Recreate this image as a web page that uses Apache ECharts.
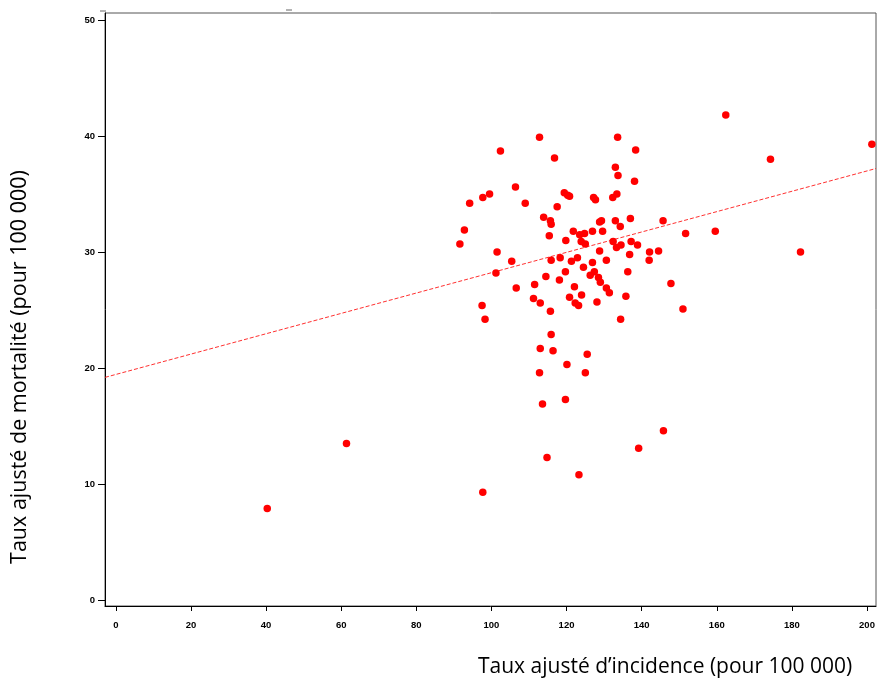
<!DOCTYPE html>
<html>
<head>
<meta charset="utf-8">
<script src="https://cdn.jsdelivr.net/npm/echarts@6/dist/echarts.min.js"></script>
<style>
  html, body { margin: 0; padding: 0; background: #fff; }
  #chart { width: 877px; height: 680px; }
</style>
</head>
<body>
<div id="chart"></div>
<script>
// taux ajusté d'incidence (x) / de mortalité (y)
const incidence = [
  112.8, 102.4, 116.8, 106.4, 99.5, 97.7, 94.2, 109.0, 119.4, 120.3,
  120.8, 117.5, 113.9, 115.7, 115.9, 115.4, 92.8, 121.8, 123.5, 119.8,
  91.6, 101.5, 133.6, 138.4, 133.0, 133.7, 138.1, 127.2, 127.7, 132.3,
  133.4, 145.7, 151.7, 137.0, 133.0, 134.3, 128.8, 129.3, 126.9, 129.6,
  124.8, 123.9, 125.0, 132.4, 133.3, 134.5, 137.2, 138.9, 128.8, 142.1,
  144.5, 136.8, 105.4, 101.2, 115.9, 118.3, 121.3, 122.9, 119.7, 114.5,
  118.1, 111.5, 106.6, 122.1, 111.2, 113.0, 120.8, 122.3, 123.2, 124.0,
  97.5, 115.7, 98.3, 115.9, 113.0, 116.4, 120.1, 112.8, 126.9, 130.6,
  142.0, 124.5, 136.3, 127.4, 126.3, 128.5, 129.0, 130.6, 131.4, 135.8,
  128.1, 147.8, 151.0, 134.4, 125.5, 125.0, 113.6, 119.7, 145.8, 139.2,
  114.8, 123.3, 97.7, 162.4, 201.3, 174.3, 159.6, 182.3, 61.4, 40.3
];
const mortalite = [
  39.9, 38.7, 38.1, 35.6, 35.0, 34.7, 34.2, 34.2, 35.1, 34.9,
  34.8, 33.9, 33.0, 32.7, 32.4, 31.4, 31.9, 31.8, 31.5, 31.0,
  30.7, 30.0, 39.9, 38.8, 37.3, 36.6, 36.1, 34.7, 34.5, 34.7,
  35.0, 32.7, 31.6, 32.9, 32.7, 32.2, 32.6, 32.7, 31.8, 31.8,
  31.6, 30.9, 30.7, 30.9, 30.4, 30.6, 30.9, 30.6, 30.1, 30.0,
  30.1, 29.8, 29.2, 28.2, 29.3, 29.5, 29.2, 29.5, 28.3, 27.9,
  27.6, 27.2, 26.9, 27.0, 26.0, 25.6, 26.1, 25.6, 25.4, 26.3,
  25.4, 24.9, 24.2, 22.9, 21.7, 21.5, 20.3, 19.6, 29.1, 29.3,
  29.3, 28.7, 28.3, 28.3, 28.0, 27.8, 27.4, 26.9, 26.5, 26.2,
  25.7, 27.3, 25.1, 24.2, 21.2, 19.6, 16.9, 17.3, 14.6, 13.1,
  12.3, 10.8, 9.3, 41.8, 39.3, 38.0, 31.8, 30.0, 13.5, 7.9
];

// droite de régression (extrémités)
const fitX = [-2.9, 202.4];
const fitY = [19.2, 37.2];

const xTicks = [0, 20, 40, 60, 80, 100, 120, 140, 160, 180, 200];
const yTicks = [0, 10, 20, 30, 40, 50];

const xTitle = 'Taux ajusté d’incidence (pour 100 000)';
const yTitle = 'Taux ajusté de mortalité (pour 100 000)';

const points = incidence.map((x, i) => [x, mortalite[i]]);
const fitLine = fitX.map((x, i) => [x, fitY[i]]);

const labelStyle = {
  color: '#000',
  fontFamily: 'Liberation Sans',
  fontWeight: 'bold',
  fontSize: 9.5
};

const chart = echarts.init(document.getElementById('chart'), null, { renderer: 'canvas' });

chart.setOption({
  animation: false,
  backgroundColor: '#fff',
  grid: {
    left: 105, top: 13, right: 1, bottom: 74,
    show: true, borderColor: '#555', borderWidth: 1,
    outerBoundsMode: 'none'
  },
  xAxis: {
    type: 'value',
    min: -2.9, max: 202.4,
    axisLine: { onZero: false, lineStyle: { color: '#000', width: 1 } },
    axisTick: { show: true, length: 5, customValues: xTicks, lineStyle: { color: '#000' } },
    axisLabel: Object.assign({ customValues: xTicks, margin: 14 }, labelStyle),
    splitLine: { show: false }
  },
  yAxis: {
    type: 'value',
    min: -0.5, max: 50.6,
    axisLine: { onZero: false, lineStyle: { color: '#000', width: 1 } },
    axisTick: { show: true, length: 7, customValues: yTicks, lineStyle: { color: '#000' } },
    axisLabel: Object.assign({ customValues: yTicks, margin: 10 }, labelStyle),
    splitLine: { show: false }
  },
  series: [
    {
      type: 'line',
      data: fitLine,
      symbol: 'none',
      lineStyle: { color: '#ff1a1a', width: 1, type: [4, 2], opacity: 0.9 },
      z: 1
    },
    {
      type: 'scatter',
      data: points,
      symbol: 'circle',
      symbolSize: 7.5,
      itemStyle: { color: '#ff0000', opacity: 1 },
      z: 2
    }
  ],
  graphic: [
    {
      type: 'text',
      left: 478, top: 657,
      style: { text: xTitle, fill: '#000', font: '21px "Open Sans"' }
    },
    {
      type: 'text',
      x: 20, y: 367,
      rotation: Math.PI / 2,
      style: { text: yTitle, fill: '#000', font: '21.5px "Open Sans"', align: 'center', verticalAlign: 'middle' }
    },
    { type: 'line', shape: { x1: 100, y1: 11, x2: 106, y2: 11 }, style: { stroke: '#666', lineWidth: 1 } },
    { type: 'line', shape: { x1: 286, y1: 10, x2: 292, y2: 10 }, style: { stroke: '#666', lineWidth: 1 } }
  ]
});
</script>
</body>
</html>
